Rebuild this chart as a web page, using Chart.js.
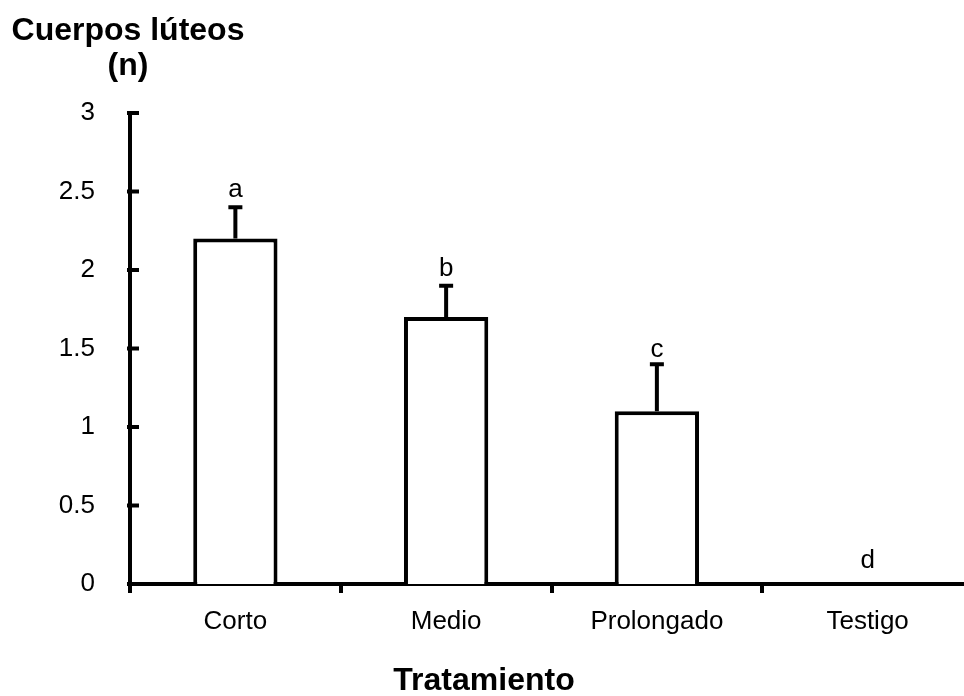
<!DOCTYPE html>
<html>
<head>
<meta charset="utf-8">
<script src="https://cdn.jsdelivr.net/npm/chart.js@4.4.1/dist/chart.umd.min.js"></script>
<style>
  html, body { margin: 0; padding: 0; background: #fff; overflow: hidden; }
  #wrap { width: 964px; height: 696px; overflow: hidden; position: relative; }
  canvas { display: block; }
</style>
</head>
<body>
<div id="wrap"><canvas id="c" width="976" height="696"></canvas></div>
<script>
const categories = ["Corto", "Medio", "Prolongado", "Testigo"];
const means = [2.2, 1.7, 1.1, 0];
const errors = [0.2, 0.2, 0.3, 0];
const letters = ["a", "b", "c", "d"];
const letterAt = [2.465, 1.96, 1.445, 0.1];
const yTicks = [0, 0.5, 1, 1.5, 2, 2.5, 3];
const yTitle = ["Cuerpos lúteos", "(n)"];
const xTitle = "Tratamiento";

const FONT = '"Liberation Sans", Arial, Helvetica, sans-serif';
const LW = 4;

const overlay = {
  id: 'overlay',
  afterDatasetsDraw(chart) {
    const ctx = chart.ctx;
    const ys = chart.scales.y;
    const meta = chart.getDatasetMeta(0);
    ctx.save();
    ctx.strokeStyle = '#000';
    ctx.lineWidth = LW;
    ctx.lineCap = 'butt';
    meta.data.forEach((bar, i) => {
      if (!errors[i]) return;
      const yb = ys.getPixelForValue(means[i]);
      const yt = ys.getPixelForValue(means[i] + errors[i]);
      ctx.beginPath();
      ctx.moveTo(bar.x, yb);
      ctx.lineTo(bar.x, yt);
      ctx.moveTo(bar.x - 7, yt);
      ctx.lineTo(bar.x + 7, yt);
      ctx.stroke();
    });
    // inside y ticks
    const left = chart.chartArea.left;
    yTicks.forEach(v => {
      const y = ys.getPixelForValue(v);
      ctx.beginPath();
      ctx.moveTo(left - 3, y);
      ctx.lineTo(left + 9, y);
      ctx.stroke();
    });
    // letters
    ctx.fillStyle = '#000';
    ctx.font = '26px ' + FONT;
    ctx.textAlign = 'center';
    ctx.textBaseline = 'alphabetic';
    meta.data.forEach((bar, i) => {
      ctx.fillText(letters[i], bar.x, ys.getPixelForValue(letterAt[i]));
    });
    ctx.restore();
  },
  afterDraw(chart) {
    const ctx = chart.ctx;
    ctx.save();
    ctx.fillStyle = '#000';
    ctx.font = 'bold 32px ' + FONT;
    ctx.textAlign = 'center';
    ctx.textBaseline = 'alphabetic';
    ctx.fillText(yTitle[0], 128, 40);
    ctx.fillText(yTitle[1], 128, 75);
    ctx.fillText(xTitle, 484, 690);
    ctx.restore();
  }
};

new Chart(document.getElementById('c'), {
  type: 'bar',
  data: {
    labels: categories,
    datasets: [{
      data: means,
      backgroundColor: '#fff',
      borderColor: '#000',
      borderWidth: LW,
      barPercentage: 0.4,
      categoryPercentage: 1
    }]
  },
  options: {
    responsive: false,
    animation: false,
    devicePixelRatio: 1,
    layout: { padding: { top: 113, right: 3, left: 0, bottom: 0 } },
    plugins: { legend: { display: false }, tooltip: { enabled: false }, title: { display: false } },
    scales: {
      x: {
        offset: true,
        grid: { display: true, drawOnChartArea: false, drawTicks: true, tickLength: 9, offset: true, color: '#000', lineWidth: LW },
        border: { display: true, color: '#000', width: LW },
        ticks: { color: '#000', font: { family: FONT, size: 26 }, padding: 13, maxRotation: 0, autoSkip: false },
        afterFit(s) { s.height = 112; }
      },
      y: {
        min: 0, max: 3,
        afterBuildTicks(s) { s.ticks = yTicks.map(v => ({ value: v })); },
        grid: { display: false, drawTicks: false },
        border: { display: true, color: '#000', width: LW },
        ticks: { color: '#000', font: { family: FONT, size: 26 }, padding: 35, callback: v => String(v) },
        afterFit(s) { s.width = 130; }
      }
    }
  },
  plugins: [overlay]
});
</script>
</body>
</html>
